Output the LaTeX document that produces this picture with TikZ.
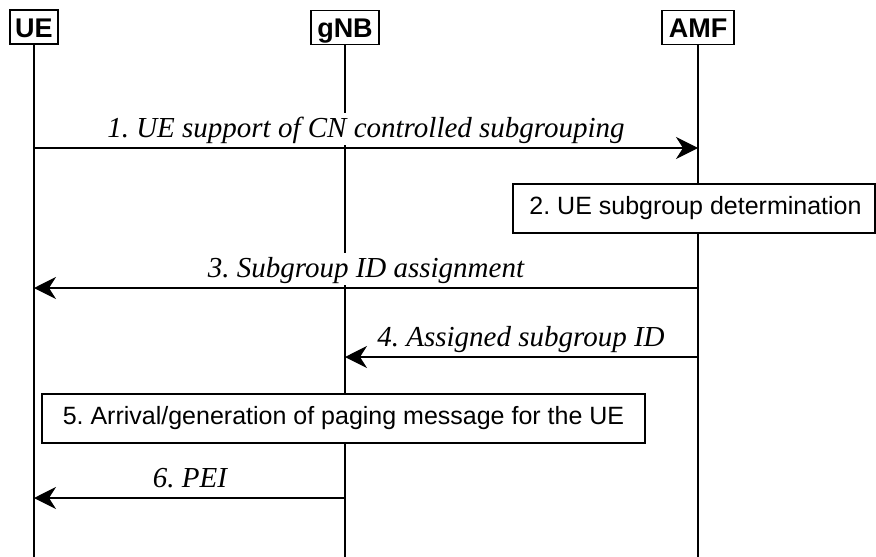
\documentclass[tikz,border=0pt]{standalone}
\usepackage{fontspec}
\setmainfont{Liberation Serif}
\setsansfont{Liberation Sans}
\usetikzlibrary{arrows.meta,calc}
\frenchspacing
\begin{document}
\begin{tikzpicture}[x=1pt,y=-1pt,
  head/.style={draw, line width=1.5pt, fill=white, font=\sffamily\bfseries\fontsize{27}{32}\selectfont, text height=24pt, text depth=4pt, inner ysep=3pt, inner xsep=0pt},
  stepbox/.style={draw, line width=1.5pt, fill=white, font=\sffamily\fontsize{25}{30}\selectfont, minimum height=49pt, inner sep=0pt},
  life/.style={line width=1.5pt},
  msg/.style={line width=1.5pt, -{Stealth[length=22pt,width=22pt,inset=7pt]}},
  lbl/.style={font=\itshape\fontsize{29}{34}\selectfont, fill=white, inner sep=2pt, text height=22pt, anchor=base}]
\useasboundingbox[fill=white] (0,0) rectangle (876,557);
% lifeline ends
\coordinate (ueEnd) at (34,557);
\coordinate (gnbEnd) at (345,557);
\coordinate (amfEnd) at (698,557);
% headers
\node[head, minimum width=48pt] (ue) at (34,27) {UE};
\node[head, minimum width=68pt] (gnb) at (345,27.5) {gNB};
\node[head, minimum width=72pt] (amf) at (698,27.5) {AMF};
\draw[life] (ue.south) -- (ueEnd);
\draw[life] (gnb.south) -- (gnbEnd);
\draw[life] (amf.south) -- (amfEnd);
% message anchors
\coordinate (m1a) at (34,148);  \coordinate (m1b) at (698,148);
\coordinate (m3a) at (698,288); \coordinate (m3b) at (34,288);
\coordinate (m4a) at (698,357); \coordinate (m4b) at (345,357);
\coordinate (m6a) at (345,498); \coordinate (m6b) at (34,498);
% step 1
\draw[msg] (m1a) -- (m1b);
\node[lbl] (l1) at (366,137) {1. UE support of CN controlled subgrouping};
% step 2
\node[stepbox, minimum width=362pt] (s2) at (694,208.5) {\hspace*{3pt}2. UE subgroup determination};
% step 3
\draw[msg] (m3a) -- (m3b);
\node[lbl] (l3) at (366,277) {3. Subgroup ID assignment};
% step 4
\draw[msg] (m4a) -- (m4b);
\node[lbl] (l4) at (521,346) {4. Assigned subgroup ID};
% step 5
\node[stepbox, minimum width=603pt] (s5) at (343.5,418.5) {5. Arrival/generation of paging message for the UE};
% step 6
\draw[msg] (m6a) -- (m6b);
\node[lbl] (l6) at (190,487) {6. PEI};
\end{tikzpicture}
\end{document}
